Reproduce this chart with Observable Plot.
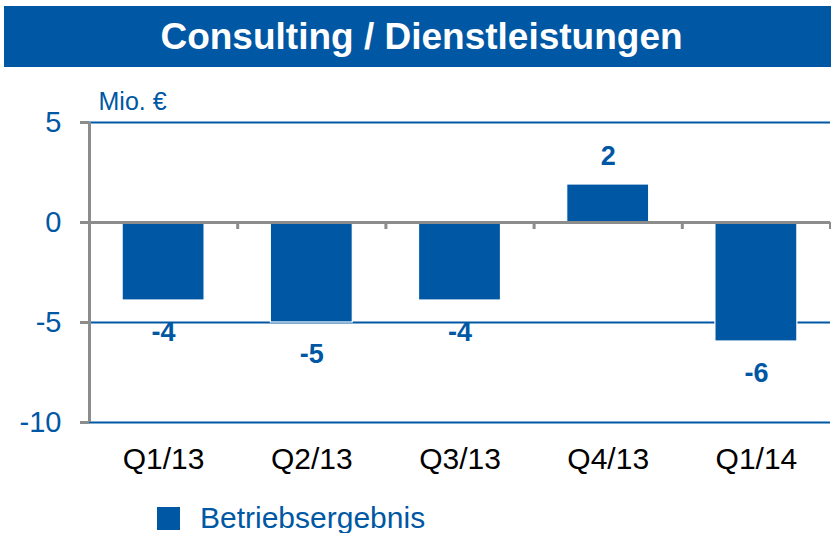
<!DOCTYPE html>
<html>
<head>
<meta charset="utf-8">
<script src="https://cdn.jsdelivr.net/npm/d3@7"></script>
<script src="https://cdn.jsdelivr.net/npm/@observablehq/plot@0.6"></script>
<style>
  html, body { margin: 0; padding: 0; background: #fff; font-family: "Liberation Sans", Arial, sans-serif; }
  #title { box-sizing: border-box; margin: 6px 0 0 4px; width: 827px; height: 61px; line-height: 61px; background: #0057a3; color: #fff; font-weight: bold; font-size: 37px; text-align: center; padding-left: 8px; white-space: nowrap; }
  #chart svg { display: block; }
  #legend { display: flex; align-items: center; padding: 6px 0 0 157px; height: 30px; }
  #legend .sw { width: 23px; height: 23px; background: #0057a3; margin-right: 20px; }
  #legend .lbl { font-size: 30px; color: #0057a3; line-height: 30px; }
</style>
</head>
<body>
<div id="title">Consulting / Dienstleistungen</div>
<div id="chart"></div>
<div id="legend"><div class="sw"></div><div class="lbl">Betriebsergebnis</div></div>
<script>
const categories = ["Q1/13", "Q2/13", "Q3/13", "Q4/13", "Q1/14"];
const values = [-3.9, -5.0, -3.9, 1.9, -5.95];
const valueLabels = ["-4", "-5", "-4", "2", "-6"];
const yTicks = [5, 0, -5, -10];
const gridLines = [5, -5, -10];
const unitLabel = "Mio. €";
const seriesName = "Betriebsergebnis";

const blue = "#0057a3";
const grey = "#8c8c8c";
const pad = 0.2235;

const data = categories.map((c, i) => ({cat: c, i, value: values[i], label: valueLabels[i]}));
const boundaries = categories.map((_, i) => i + 1);

const chart = Plot.plot({
  width: 831,
  height: 430,
  marginTop: 55,
  marginBottom: 75,
  marginLeft: 89,
  marginRight: 1,
  style: {fontFamily: "'Liberation Sans', Arial, sans-serif", background: "#fff", overflow: "visible"},
  x: {type: "linear", domain: [0, categories.length], axis: null},
  y: {domain: [-10, 5], axis: null},
  marks: [
    Plot.ruleY(gridLines, {stroke: blue, strokeWidth: 2}),
    Plot.rectY(data, {x1: d => d.i + pad, x2: d => d.i + 1 - pad, y1: 0, y2: "value", fill: blue, stroke: "#ffffff", strokeWidth: 1.2}),
    Plot.ruleY([0], {stroke: grey, strokeWidth: 3}),
    Plot.ruleX(boundaries, {y1: 0, y2: -0.35, stroke: grey, strokeWidth: 3}),
    Plot.ruleX([0], {y1: -10, y2: 5, stroke: grey, strokeWidth: 3}),
    Plot.axisY({ticks: yTicks, tickSize: 9, tickPadding: 19, stroke: grey, strokeWidth: 3, fill: blue, fontSize: 29, label: null, tickFormat: d => String(d).replace("−", "-")}),
    Plot.text(data.filter(d => d.value < 0), {x: d => d.i + 0.5, y: "value", text: "label", dy: 32, fill: blue, fontSize: 27, fontWeight: "bold", lineAnchor: "middle"}),
    Plot.text(data.filter(d => d.value >= 0), {x: d => d.i + 0.5, y: "value", text: "label", dy: -28, fill: blue, fontSize: 27, fontWeight: "bold", lineAnchor: "middle"}),
    Plot.text(data, {x: d => d.i + 0.5, y: -10, text: "cat", dy: 37, fill: "#000", fontSize: 30, lineAnchor: "middle"}),
    Plot.text([unitLabel], {frameAnchor: "top-left", dx: 9, dy: -21, textAnchor: "start", fill: blue, fontSize: 25, lineAnchor: "middle"})
  ]
});
document.getElementById("chart").appendChild(chart);
</script>
</body>
</html>
